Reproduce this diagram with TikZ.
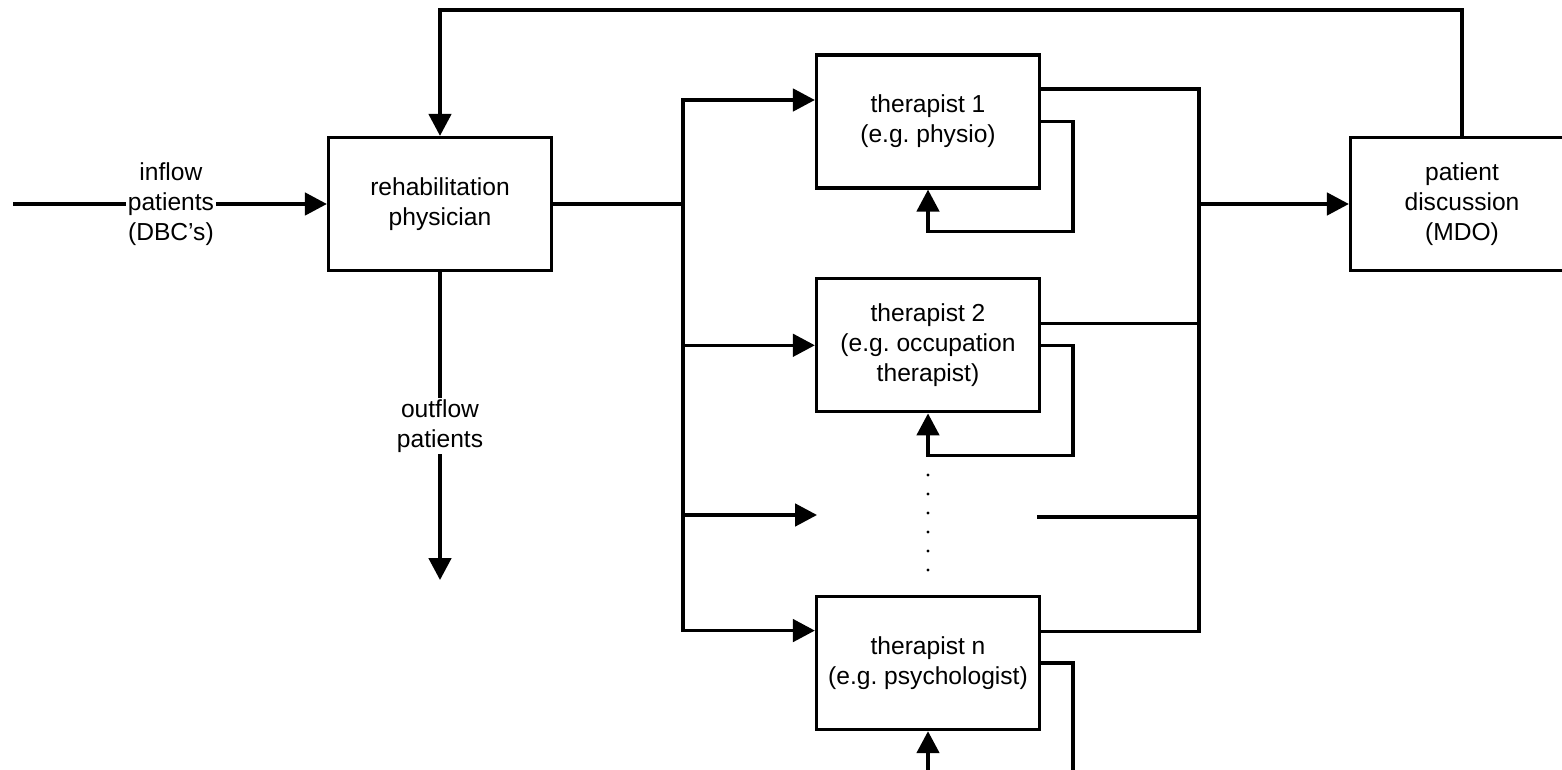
\documentclass[tikz,border=0pt]{standalone}
\usepackage{fontspec}
\setmainfont{Liberation Sans}
\usetikzlibrary{arrows.meta, positioning}
\frenchspacing

\begin{document}
\begin{tikzpicture}[
    x=0.02cm, y=-0.02cm,
    every node/.style={font=\fontsize{14}{17}\selectfont},
    block/.style={rectangle, minimum width=4.46cm, minimum height=2.66cm, text centered, align=center, draw=black, line width=1.9pt},
    line/.style={line width=1.9pt, line cap=rect},
    arrow/.style={line width=1.9pt, line cap=rect, -{Triangle[length=0.44cm, width=0.45cm]}},
    lbl/.style={fill=white, inner sep=1pt, align=center}
]

\useasboundingbox (0,0) rectangle (1562,770);
\clip (0,0) rectangle (1562,770);

% Main blocks
\node (rehab) [block] at (440,204) {rehabilitation\\physician};
\node (ther1) [block] at (928,121.5) {therapist 1\\(e.g. physio)};
\node (ther2) [block, below=1.75cm of ther1] {therapist 2\\(e.g. occupation\\therapist)};
\node (therN) [block, below=3.63cm of ther2] {therapist n\\(e.g. psychologist)};
\node (patient) [block] at (1462,204) {patient\\discussion\\(MDO)};

% Helper points
\coordinate (inflow) at (15,204);
\coordinate (outflow) at (440,580);
\coordinate (top) at (0,10);
\coordinate (busL) at (683,204);
\coordinate (busR) at (1199,204);
\coordinate (dotsW) at (817,515);
\coordinate (dotsE) at (1039,517);
\coordinate (in1) at ([yshift=0.43cm]ther1.west);
\coordinate (inN) at ([yshift=0.65cm]therN.west);
\coordinate (out1) at ([yshift=0.65cm]ther1.east);
\coordinate (out2) at ([yshift=0.43cm]ther2.east);
\coordinate (outN) at ([yshift=0.63cm]therN.east);

% Patient flow
\draw [arrow] (inflow) -- (rehab) node[midway,lbl] {inflow\\patients\\(DBC’s)};
\draw [arrow] (rehab) -- (outflow) node[midway,lbl] {outflow\\patients};
\draw [arrow] (patient.north) -- (patient.north |- top) -| (rehab.north);

% Referral to therapists
\draw [line] (rehab) -- (busL);
\draw [arrow] (inN -| busL) -- (in1 -| busL) -- (in1);
\draw [arrow] (busL |- ther2.west) -- (ther2.west);
\draw [arrow] (busL |- dotsW) -- (dotsW);
\draw [arrow] (inN -| busL) -- (inN);

% Therapists back to discussion
\draw [line] (out1) -- (out1 -| busR) -- (outN -| busR) -- (outN);
\draw [line] (out2) -- (out2 -| busR);
\draw [line] (dotsE) -- (dotsE -| busR);
\draw [arrow] (busR) -- (patient);

% Repeated treatment loops
\draw [arrow] (ther1.east) -- ++(32,0) -- ++(0,110) -| (ther1.south);
\draw [arrow] (ther2.east) -- ++(32,0) -- ++(0,110) -| (ther2.south);
\draw [arrow] (therN.east) -- ++(32,0) -- ++(0,150) -| (therN.south);

% Dots for further therapists
\foreach \i in {0,...,5}
    \fill (928,{475+19*\i}) circle (0.9pt);

\end{tikzpicture}
\end{document}
